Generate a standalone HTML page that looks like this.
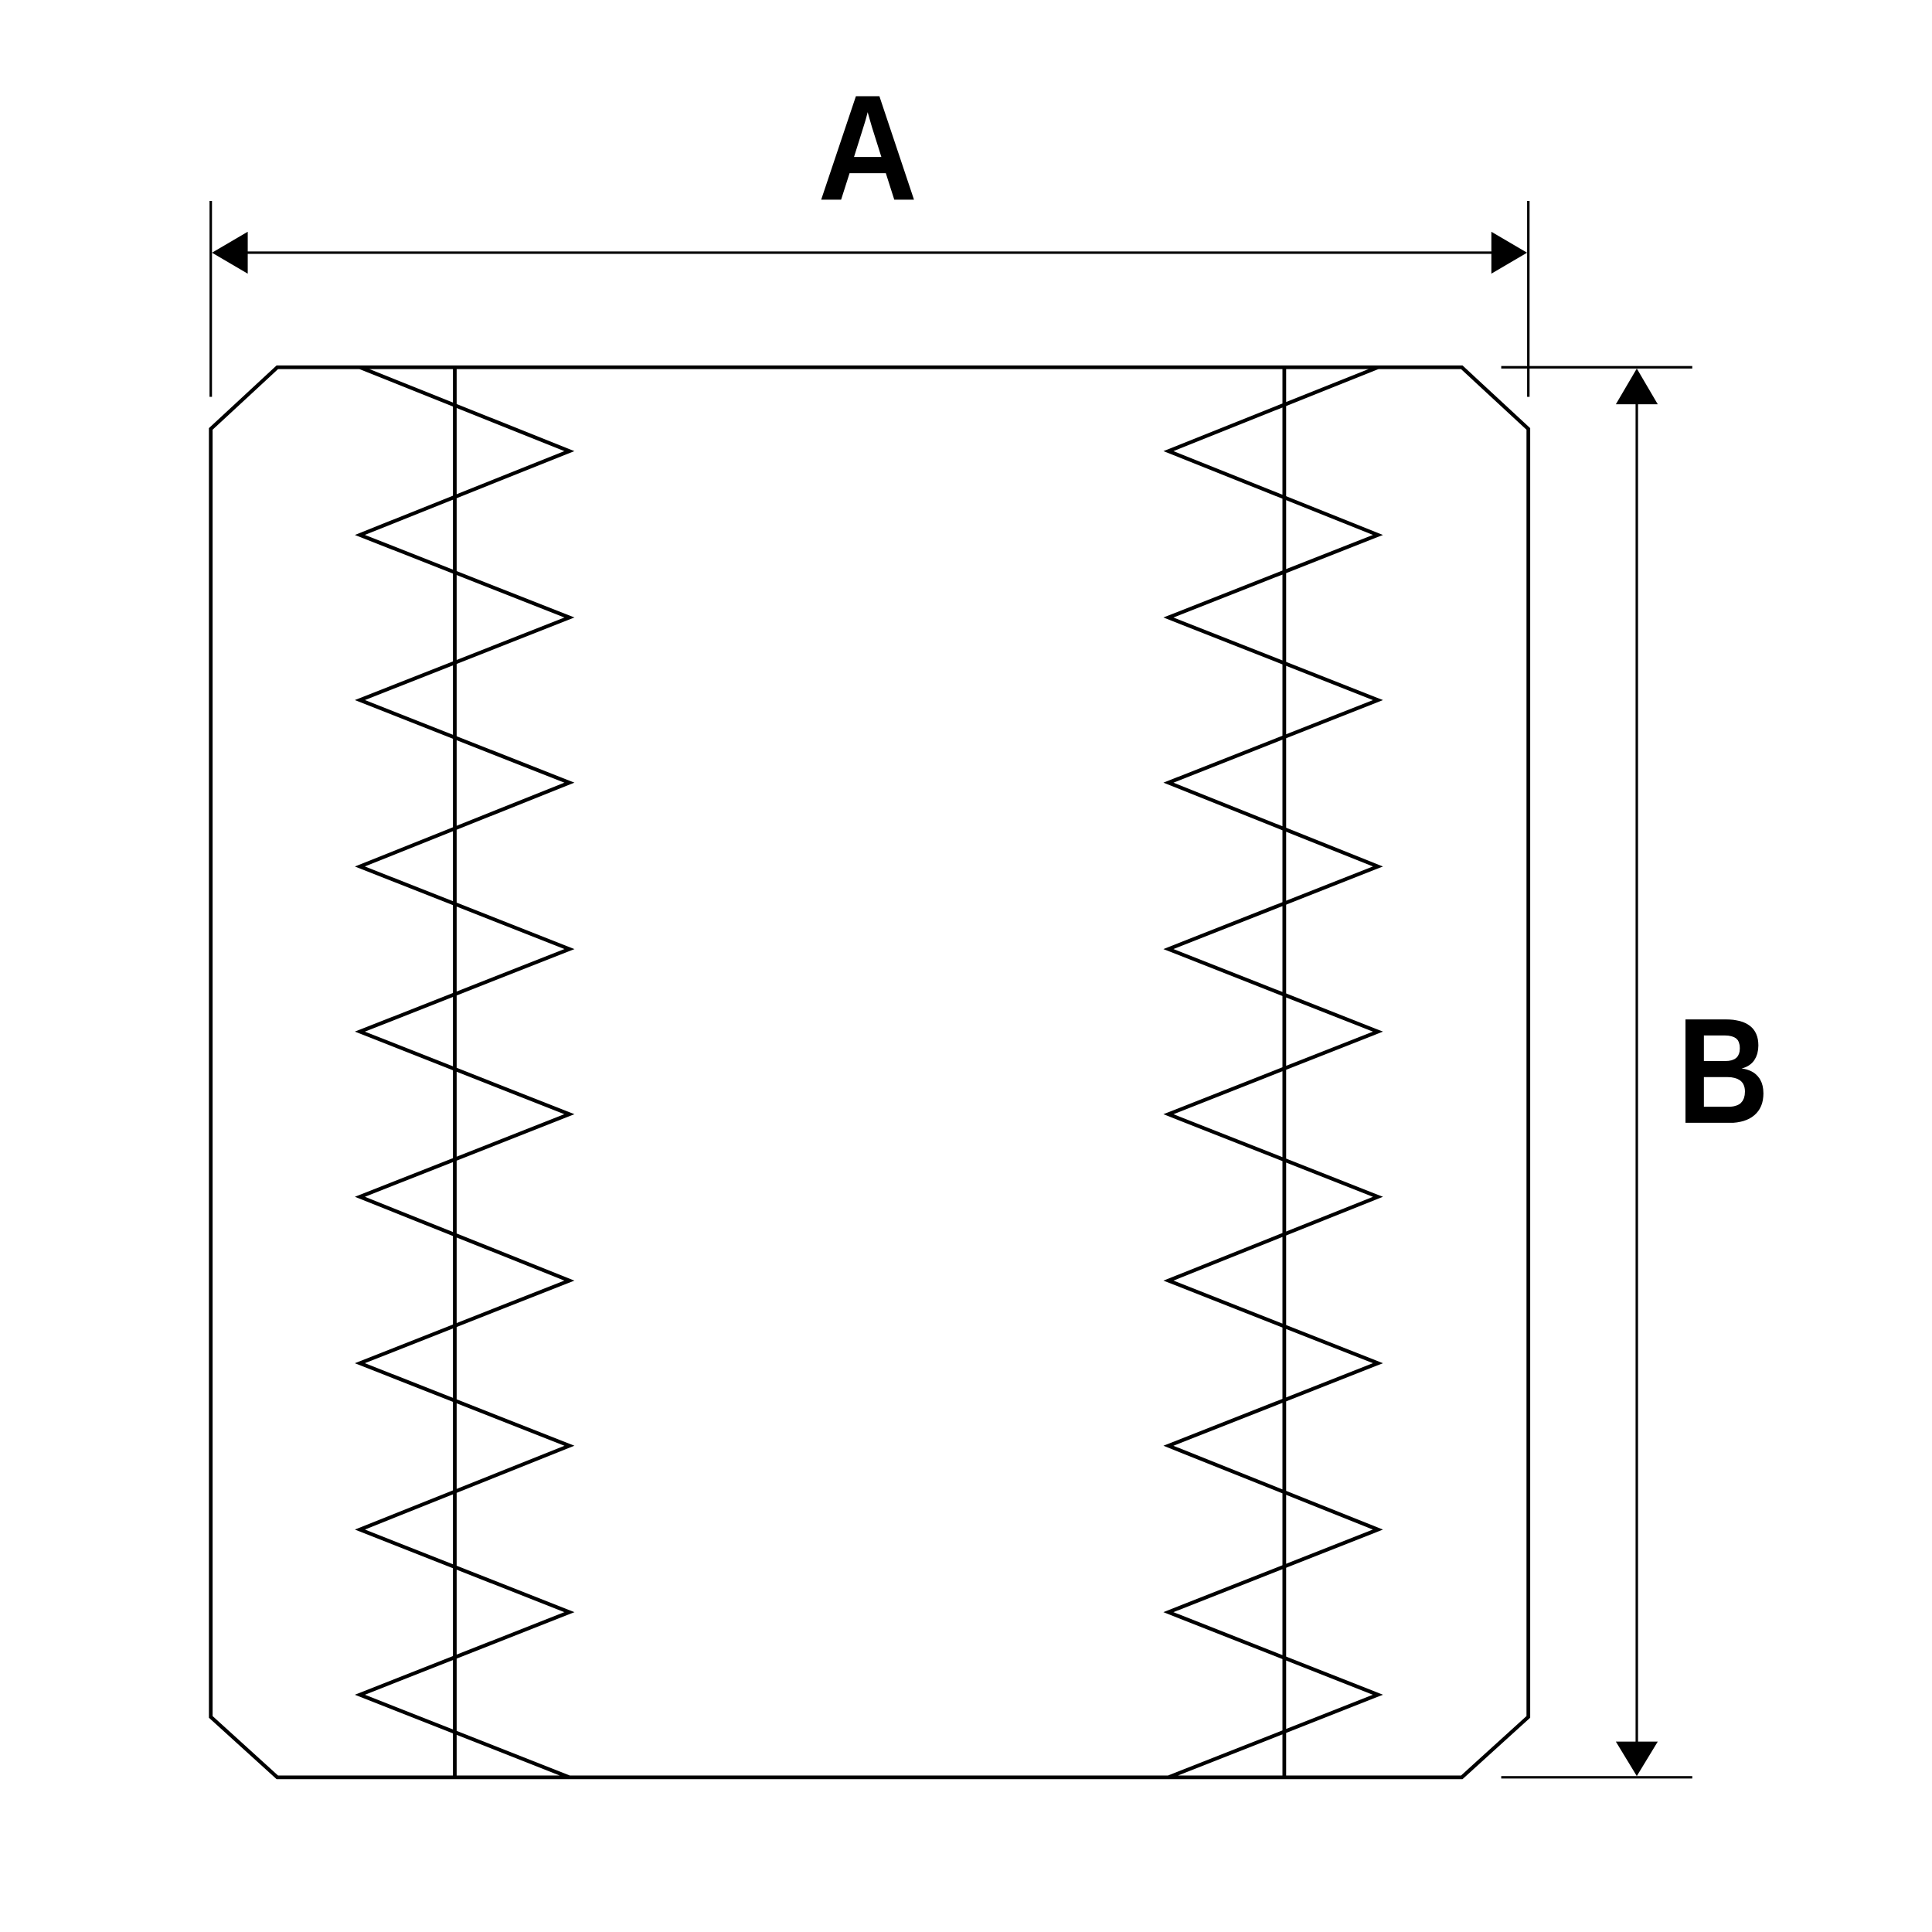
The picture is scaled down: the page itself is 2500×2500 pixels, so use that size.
<!DOCTYPE html>
<html><head><meta charset="utf-8"><style>
html,body{margin:0;padding:0;background:#fff;}
svg{display:block;}
</style></head><body>
<svg width="2500" height="2500" viewBox="0 0 1567.5 1567.5" xmlns="http://www.w3.org/2000/svg">
<rect width="1567.5" height="1567.5" fill="#fff"/>
<g fill="none" stroke="#000" stroke-width="3" stroke-linejoin="miter">
<polygon points="225,298 1186,298 1240,348 1240,1393 1186,1442 225,1442 171,1393 171,348"/>
<line x1="369" y1="298" x2="369" y2="1442"/>
<line x1="1042" y1="298" x2="1042" y2="1442"/>
<polyline points="292,298 462,366 292,434 462,501 292,568 462,635 292,703 462,770 292,837 462,904 292,971 462,1039 292,1106 462,1173 292,1241 462,1308 292,1375 462,1442"/>
<polyline points="1118,298 948,366 1118,434 948,501 1118,568 948,635 1118,703 948,770 1118,837 948,904 1118,971 948,1039 1118,1106 948,1173 1118,1241 948,1308 1118,1375 948,1442"/>
</g>
<g stroke="#000" stroke-width="2">
<line x1="171" y1="163" x2="171" y2="322"/>
<line x1="1240" y1="163" x2="1240" y2="322"/>
<line x1="195" y1="205" x2="1216" y2="205"/>
<line x1="1218" y1="298" x2="1373" y2="298"/>
<line x1="1218" y1="1442" x2="1373" y2="1442"/>
<line x1="1328" y1="322" x2="1328" y2="1418"/>
</g>
<g fill="#000">
<polygon points="172,205 201,188 201,222"/>
<polygon points="1239,205 1210,188 1210,222"/>
<polygon points="1328,299 1311,328 1345,328"/>
<polygon points="1328,1441 1311,1413 1345,1413"/>
</g>
<text x="704" y="162" text-anchor="middle" font-family="Liberation Sans, sans-serif" font-weight="bold" font-size="122" transform="translate(704 0) scale(0.92 1) translate(-704 0)">A</text>
<text x="1398" y="911" text-anchor="middle" font-family="Liberation Sans, sans-serif" font-weight="bold" font-size="122" transform="translate(1398 0) scale(0.85 1) translate(-1398 0)">B</text>
</svg>
</body></html>
